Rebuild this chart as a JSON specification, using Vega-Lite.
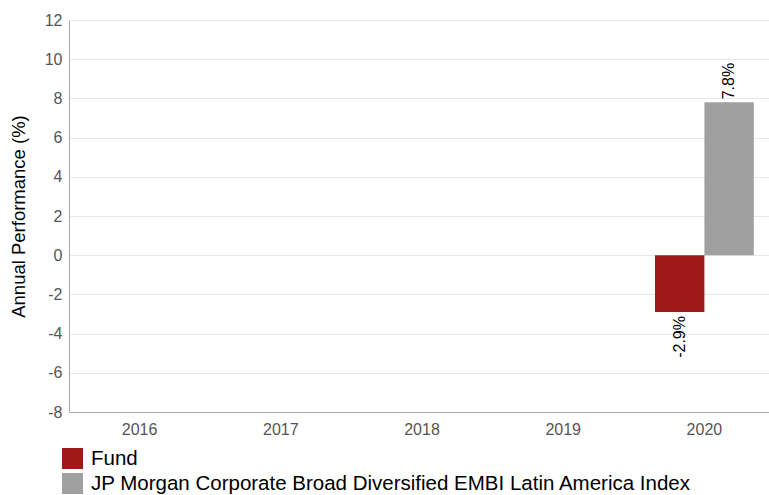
{
  "$schema": "https://vega.github.io/schema/vega-lite/v6.json",
  "autosize": "none",
  "width": 706,
  "height": 392,
  "padding": {"left": 69, "top": 20, "right": 0, "bottom": 83},
  "background": "white",
  "config": {
    "font": "Liberation Sans",
    "view": {"stroke": null},
    "locale": {"number": {"decimal": ".", "thousands": ",", "grouping": [3], "currency": ["$", ""], "minus": "-"}}
  },
  "data": {
    "values": [
      {"year": "2020", "series": "Fund", "value": -2.9},
      {"year": "2020", "series": "JP Morgan Corporate Broad Diversified EMBI Latin America Index", "value": 7.8}
    ]
  },
  "transform": [
    {"calculate": "format(datum.value, '.1f') + '%'", "as": "label"}
  ],
  "encoding": {
    "x": {
      "field": "year", "type": "nominal",
      "scale": {"domain": ["2016", "2017", "2018", "2019", "2020"], "paddingInner": 0.3, "paddingOuter": 0.15},
      "axis": {"title": null, "labelAngle": 0, "labelFontSize": 16, "labelColor": "#555555", "labelPadding": 9, "ticks": false, "domainColor": "#aaaaaa", "grid": false}
    },
    "xOffset": {"field": "series", "type": "nominal", "sort": ["Fund", "JP Morgan Corporate Broad Diversified EMBI Latin America Index"]},
    "y": {
      "field": "value", "type": "quantitative",
      "scale": {"domain": [-8, 12], "nice": false},
      "axis": {"title": "Annual Performance (%)", "titleFontSize": 18.5, "titleFontWeight": "normal", "titleColor": "#000000", "titlePadding": 16, "values": [-8, -6, -4, -2, 0, 2, 4, 6, 8, 10, 12], "labelFontSize": 16, "labelColor": "#555555", "labelPadding": 7, "ticks": false, "domainColor": "#aaaaaa", "gridColor": "#e8e8e8"}
    }
  },
  "layer": [
    {
      "mark": {"type": "bar"},
      "encoding": {
        "color": {
          "field": "series", "type": "nominal",
          "scale": {"domain": ["Fund", "JP Morgan Corporate Broad Diversified EMBI Latin America Index"], "range": ["#9e1a1a", "#a0a0a0"]},
          "legend": {"title": null, "orient": "none", "legendX": -7, "legendY": 428, "symbolType": "square", "symbolSize": 441, "symbolStrokeWidth": 0, "labelFontSize": 20.5, "labelColor": "#000000", "rowPadding": 4, "labelOffset": 8, "labelLimit": 800}
        }
      }
    },
    {
      "transform": [{"filter": "datum.value >= 0"}],
      "mark": {"type": "text", "angle": 270, "align": "left", "baseline": "middle", "fontSize": 16, "color": "#000000", "dx": 3},
      "encoding": {"text": {"field": "label"}}
    },
    {
      "transform": [{"filter": "datum.value < 0"}],
      "mark": {"type": "text", "angle": 270, "align": "right", "baseline": "middle", "fontSize": 16, "color": "#000000", "dx": -4},
      "encoding": {"text": {"field": "label"}}
    }
  ]
}
